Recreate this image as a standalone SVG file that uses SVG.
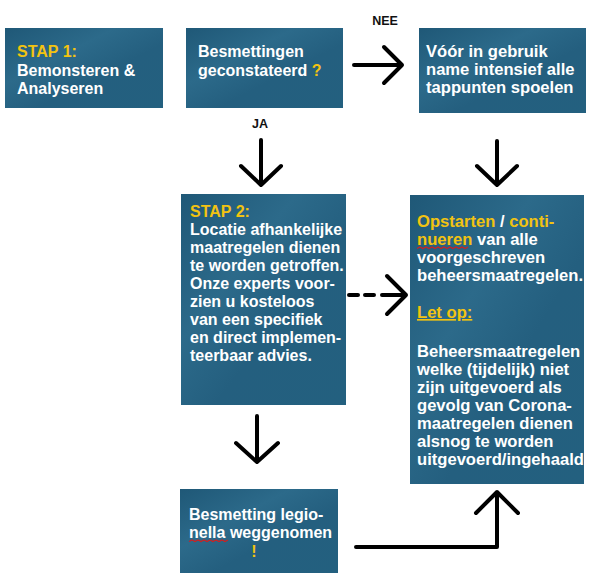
<svg xmlns="http://www.w3.org/2000/svg" width="593" height="578" viewBox="0 0 593 578">
<style>
.box{fill:url(#bg);}
.t{font-family:"Liberation Sans",Arial,sans-serif;font-weight:bold;font-size:16px;fill:#ffffff;}
.m{font-size:16.6px;}
.y{fill:#f2c311;}
.lbl{font-family:"Liberation Sans",Arial,sans-serif;font-weight:bold;font-size:12.5px;fill:#111111;}
.c{fill:none;stroke:#000;stroke-width:4;stroke-linecap:round;stroke-linejoin:round;}
.sp{fill:none;stroke:#d02020;stroke-width:1.2;}
</style>
<defs>
<linearGradient id="bg" x1="0" y1="0" x2="1" y2="1">
<stop offset="0" stop-color="#1f5877"/>
<stop offset="0.35" stop-color="#2c6a8a"/>
<stop offset="0.6" stop-color="#245f7f"/>
<stop offset="1" stop-color="#23607f"/>
</linearGradient>
</defs>
<rect width="593" height="578" fill="#ffffff"/>

<g id="stap1">
<rect class="box" x="5" y="28" width="158" height="80"/>
<text class="t" x="17" y="57"><tspan class="y">STAP 1:</tspan></text>
<text class="t" x="17" y="75.5">Bemonsteren &amp;</text>
<text class="t" x="17" y="94">Analyseren</text>
</g>

<g id="besmettingen">
<rect class="box" x="186" y="28" width="157" height="80"/>
<text class="t" x="198" y="57">Besmettingen</text>
<text class="t" x="198" y="76">geconstateerd <tspan class="y">?</tspan></text>
</g>

<g id="spoelen">
<rect class="box" x="419" y="28" width="167" height="85"/>
<text class="t m" x="426" y="57">Vóór in gebruik</text>
<text class="t m" x="426" y="75">name intensief alle</text>
<text class="t m" x="426" y="93">tappunten spoelen</text>
</g>

<g id="stap2">
<rect class="box" x="181" y="194" width="165" height="211"/>
<text class="t" x="190" y="216.5"><tspan class="y">STAP 2:</tspan></text>
<text class="t" x="190" y="234.5">Locatie afhankelijke</text>
<text class="t" x="190" y="252.5">maatregelen dienen</text>
<text class="t" x="190" y="270.5">te worden getroffen.</text>
<text class="t" x="190" y="288.5">Onze experts voor-</text>
<text class="t" x="190" y="306.5">zien u kosteloos</text>
<text class="t" x="190" y="324.5">van een specifiek</text>
<text class="t" x="190" y="342.5">en direct implemen-</text>
<text class="t" x="190" y="360.5">teerbaar advies.</text>
</g>

<g id="beheersmaatregelen">
<rect class="box" x="410" y="195" width="174" height="289"/>
<text class="t m" x="417" y="227"><tspan class="y">Opstarten</tspan> / <tspan class="y">conti-</tspan></text>
<text class="t m" x="417" y="245"><tspan class="y">nueren</tspan> van alle</text>
<path class="sp" d="M417,248.5 l3,-1.5 l3,1.5 l3,-1.5 l3,1.5 l3,-1.5 l3,1.5 l3,-1.5 l3,1.5 l3,-1.5 l3,1.5 l3,-1.5 l3,1.5 l3,-1.5 l3,1.5 l3,-1.5 l3,1.5 l3,-1.5"/>
<text class="t m" x="417" y="263">voorgeschreven</text>
<text class="t m" x="417" y="281">beheersmaatregelen.</text>
<text class="t m y" x="417" y="318" text-decoration="underline">Let op:</text>
<text class="t m" x="417" y="357">Beheersmaatregelen</text>
<text class="t m" x="417" y="375">welke (tijdelijk) niet</text>
<text class="t m" x="417" y="393">zijn uitgevoerd als</text>
<text class="t m" x="417" y="411">gevolg van Corona-</text>
<text class="t m" x="417" y="429">maatregelen dienen</text>
<text class="t m" x="417" y="447">alsnog te worden</text>
<text class="t m" x="417" y="465">uitgevoerd/ingehaald</text>
</g>

<g id="weggenomen">
<rect class="box" x="180" y="489" width="158" height="84"/>
<text class="t" x="189" y="520">Besmetting legio-</text>
<text class="t" x="189" y="538">nella weggenomen</text>
<path class="sp" d="M189,541.5 l3,-1.5 l3,1.5 l3,-1.5 l3,1.5 l3,-1.5 l3,1.5 l3,-1.5 l3,1.5 l3,-1.5 l3,1.5 l3,-1.5 l3,1.5 l3,-1.5"/>
<text class="t y" x="254" y="557" text-anchor="middle">!</text>
</g>

<g id="connectors">
<text class="lbl" x="385" y="25" text-anchor="middle">NEE</text>
<path class="c" d="M354,65 H402 M384,47 L402,65 L384,83"/>
<text class="lbl" x="260" y="128" text-anchor="middle">JA</text>
<path class="c" d="M261,140 V185 M241,166 L261,185 L281,166"/>
<path class="c" d="M497,141 V185 M477,166 L497,185 L517,166"/>
<path class="c" d="M349,295 H358 M365,295 H374 M382,295 H406 M387,276 L406,295 L387,314"/>
<path class="c" d="M257,416 V462 M236,443 L257,462 L278,443"/>
<path class="c" d="M356,547 H497 V492 M476,513 L497,492 L518,513"/>
</g>
</svg>
